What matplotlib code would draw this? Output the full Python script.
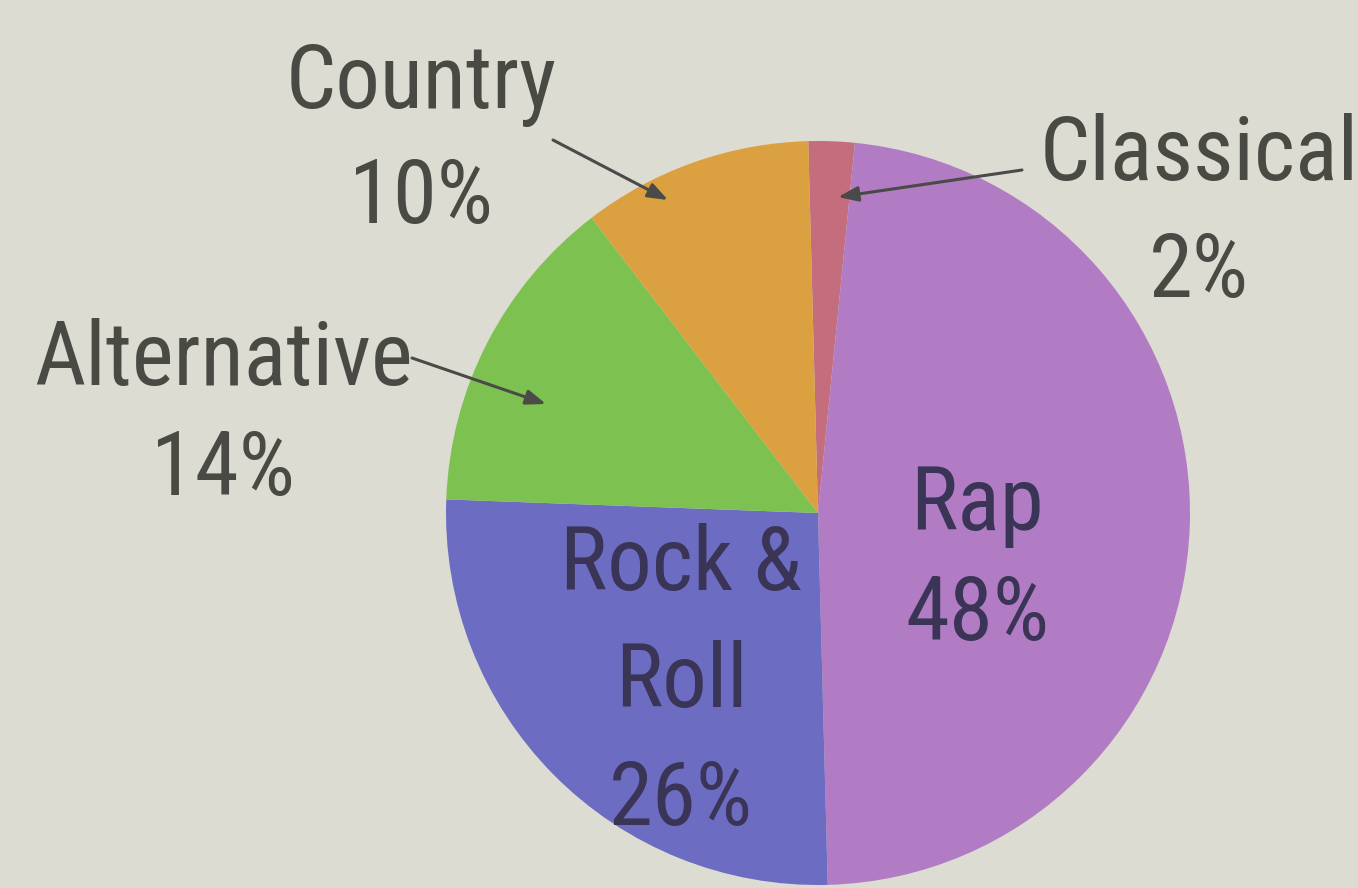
import matplotlib
matplotlib.use("Agg")
import matplotlib.pyplot as plt

# Data
genres = ["Classical", "Rap", "Rock & Roll", "Alternative", "Country"]
shares = [2, 48, 26, 14, 10]
colors = ["#c46d7c", "#b27cc4", "#6c6dc2", "#7dc250", "#dba03f"]

W, H = 1358, 888
fig = plt.figure(figsize=(W / 100, H / 100), dpi=100)
fig.patch.set_facecolor("#dddcd3")
ax = fig.add_axes([0, 0, 1, 1])
ax.set_facecolor("#dddcd3")

cx, cy, r = 818, H - 513, 372
ax.pie(shares, colors=colors, startangle=91.5, counterclock=False,
       center=(cx, cy), radius=r, frame=True,
       wedgeprops=dict(linewidth=0))
ax.set_xlim(0, W)
ax.set_ylim(0, H)
ax.set_aspect("equal")
ax.axis("off")

font = ["Roboto Condensed", "DejaVu Sans"]
fs = 64
out_col = "#4a4a44"
in_col = "#3a3456"

def lines(x, ys, texts, col):
    for y, t in zip(ys, texts):
        ax.text(x, H - y, t, ha="center", va="baseline", fontsize=fs,
                family=font, color=col)

lines(421, [108, 223], ["Country", f"{shares[4]}%"], out_col)
lines(1199, [180, 297], ["Classical", f"{shares[0]}%"], out_col)
lines(223, [385, 495], ["Alternative", f"{shares[3]}%"], out_col)
lines(977, [530, 640], ["Rap", f"{shares[1]}%"], in_col)
lines(681, [590, 707, 825], ["Rock &", "Roll", f"{shares[2]}%"], in_col)

arrow = dict(arrowstyle="-|>,head_length=1.2,head_width=0.45",
             color="#4a4a48", lw=2.2, shrinkA=0, shrinkB=0)
ax.annotate("", xy=(668, H - 200), xytext=(553, H - 140), arrowprops=arrow)
ax.annotate("", xy=(838, H - 197), xytext=(1022, H - 170), arrowprops=arrow)
ax.annotate("", xy=(546, H - 404), xytext=(412, H - 358), arrowprops=arrow)

fig.savefig("out.png", dpi=100, facecolor=fig.get_facecolor())
